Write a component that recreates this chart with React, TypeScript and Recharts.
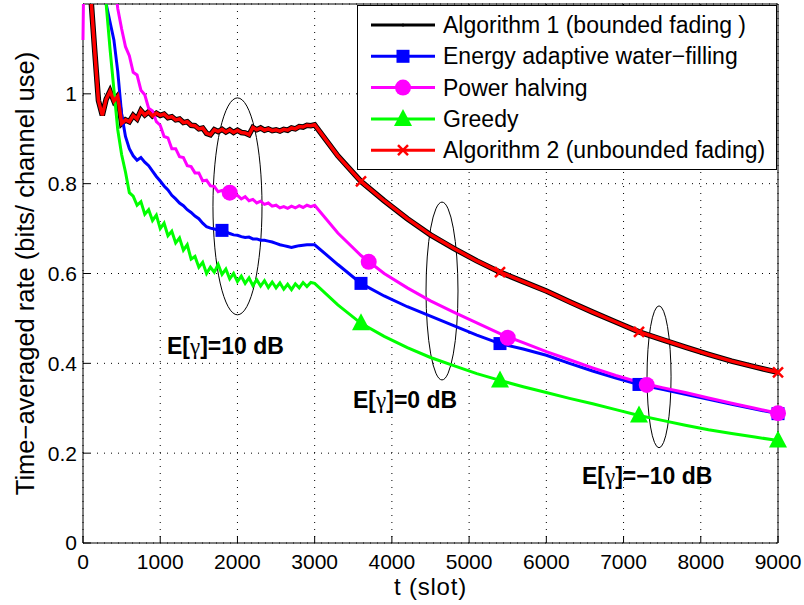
import React from "react";
import {
  ComposedChart,
  Line,
  Scatter,
  XAxis,
  YAxis,
  CartesianGrid,
  ReferenceArea,
  ReferenceDot,
  Legend,
} from "recharts";

const FONT = '"Liberation Sans", Arial, Helvetica, sans-serif';

// time slots (dense up to 3000 where the curves are noisy)
const slots = [
  0, 50, 100, 150, 200, 250, 300, 350, 400, 450,
  500, 550, 600, 650, 700, 750, 800, 850, 900, 950,
  1000, 1050, 1100, 1150, 1200, 1250, 1300, 1350, 1400, 1450,
  1500, 1550, 1600, 1650, 1700, 1750, 1800, 1850, 1900, 1950,
  2000, 2050, 2100, 2150, 2200, 2250, 2300, 2350, 2400, 2450,
  2500, 2550, 2600, 2650, 2700, 2750, 2800, 2850, 2900, 2950,
  3000, 3300, 3600, 3900, 4200, 4500, 4800, 5100, 5400, 5700,
  6000, 6300, 6600, 6900, 7200, 7500, 7800, 8100, 8400, 8700, 9000,
];

// Algorithm 1 and Algorithm 2 overlap
const algoRate = [
  2.2, 1.7, 1.22, 1.1, 0.985, 0.952, 0.988, 1.006, 0.984, 0.995,
  0.934, 0.942, 0.938, 0.952, 0.944, 0.963, 0.953, 0.96, 0.951, 0.957,
  0.952, 0.955, 0.947, 0.949, 0.942, 0.944, 0.936, 0.938, 0.93, 0.929,
  0.922, 0.924, 0.912, 0.909, 0.92, 0.916, 0.921, 0.915, 0.92, 0.914,
  0.919, 0.914, 0.913, 0.909, 0.925, 0.92, 0.924, 0.919, 0.922, 0.918,
  0.92, 0.917, 0.921, 0.919, 0.924, 0.922, 0.927, 0.926, 0.93, 0.929,
  0.931, 0.862, 0.805, 0.762, 0.722, 0.686, 0.656, 0.628, 0.603, 0.582,
  0.561, 0.537, 0.514, 0.492, 0.47, 0.453, 0.436, 0.42, 0.405, 0.392, 0.38,
];

const waterFilling = [
  2.2, 2.0, 1.8, 1.6, 1.45, 1.32, 1.2, 1.16, 1.12, 1.05,
  0.955, 0.905, 0.878, 0.862, 0.852, 0.858, 0.848, 0.84, 0.828, 0.816,
  0.806, 0.795, 0.786, 0.774, 0.766, 0.757, 0.751, 0.742, 0.736, 0.728,
  0.722, 0.712, 0.704, 0.701, 0.699, 0.697, 0.696, 0.693, 0.689, 0.686,
  0.685, 0.682, 0.68, 0.681, 0.677, 0.677, 0.674, 0.674, 0.672, 0.67,
  0.667, 0.664, 0.662, 0.66, 0.658, 0.66, 0.662, 0.663, 0.664, 0.664,
  0.664, 0.62, 0.578, 0.55, 0.526, 0.505, 0.484, 0.463, 0.444, 0.432,
  0.418, 0.4, 0.383, 0.367, 0.353, 0.342, 0.331, 0.32, 0.309, 0.298, 0.288,
];

const powerHalving = [
  1.12, 1.9, 1.8, 1.7, 1.6, 1.5, 1.42, 1.35, 1.27, 1.19,
  1.145, 1.105, 1.085, 1.048, 1.042, 1.008, 0.998, 0.968, 0.962, 0.938,
  0.93, 0.905, 0.902, 0.878, 0.878, 0.86, 0.858, 0.84, 0.838, 0.824,
  0.824, 0.806, 0.808, 0.795, 0.794, 0.782, 0.785, 0.776, 0.782, 0.772,
  0.774, 0.766, 0.771, 0.762, 0.765, 0.757, 0.761, 0.754, 0.757, 0.75,
  0.752, 0.746, 0.749, 0.745, 0.75, 0.746, 0.751, 0.747, 0.752, 0.749,
  0.752, 0.69, 0.64, 0.6, 0.568, 0.539, 0.514, 0.49, 0.466, 0.446,
  0.426, 0.408, 0.39, 0.373, 0.358, 0.346, 0.335, 0.323, 0.311, 0.3, 0.289,
];

const greedy = [
  2.2, 2.0, 1.8, 1.6, 1.45, 1.3, 1.2, 1.1, 1.01, 0.92,
  0.865, 0.826, 0.78, 0.772, 0.752, 0.76, 0.732, 0.742, 0.718, 0.73,
  0.7, 0.712, 0.684, 0.694, 0.668, 0.679, 0.652, 0.664, 0.632, 0.638,
  0.614, 0.625, 0.6, 0.614, 0.603, 0.62, 0.598, 0.61, 0.588, 0.6,
  0.582, 0.594, 0.578, 0.59, 0.573, 0.586, 0.572, 0.584, 0.569, 0.581,
  0.568, 0.579, 0.565, 0.576, 0.564, 0.577, 0.568, 0.58, 0.571, 0.58,
  0.578, 0.53, 0.489, 0.46, 0.435, 0.413, 0.395, 0.377, 0.362, 0.348,
  0.335, 0.322, 0.31, 0.297, 0.284, 0.273, 0.262, 0.252, 0.244, 0.236, 0.228,
];

// marker positions
const squareT = [1800, 3600, 5400, 7200, 9000];
const squareV = [0.696, 0.578, 0.444, 0.353, 0.288];
const circleT = [1900, 3700, 5500, 7300, 9000];
const circleV = [0.78, 0.626, 0.457, 0.352, 0.289];
const triangleT = [3600, 5400, 7200, 9000];
const triangleV = [0.489, 0.362, 0.284, 0.228];
const crossT = [3600, 5400, 7200, 9000];
const crossV = [0.805, 0.603, 0.47, 0.38];

const xTicks = [0, 1000, 2000, 3000, 4000, 5000, 6000, 7000, 8000, 9000];
const yTicks = [0, 0.2, 0.4, 0.6, 0.8, 1];

// annotations: ellipse bounds and labels
const ellipseT = [[1683, 2318], [4442, 4856], [7304, 7615]];
const ellipseV = [[0.508, 0.991], [0.363, 0.759], [0.212, 0.528]];
const noteT = [1088, 3497, 6462];
const noteV = [0.421, 0.3, 0.131];
const noteText = ["=10 dB", "=0 dB", "=\u221210 dB"];

const legendNames = [
  "Algorithm 1 (bounded fading )",
  "Energy adaptive water\u2212filling",
  "Power halving",
  "Greedy",
  "Algorithm 2 (unbounded fading)",
];
const legendColors = ["#000000", "#0000ff", "#ff00ff", "#00ff00", "#ff0000"];
const legendMarks = ["dot", "square", "circle", "triangle", "cross"];

const rows = slots.map((t, i) => ({
  t,
  algo: algoRate[i],
  water: waterFilling[i],
  halving: powerHalving[i],
  greedy: greedy[i],
}));

const pts = (ts: number[], vs: number[]) => ts.map((t, i) => ({ t, v: vs[i] }));

function marker(kind: string, cx: number, cy: number, color: string) {
  switch (kind) {
    case "square":
      return <rect x={cx - 6.5} y={cy - 6.5} width={13} height={13} fill={color} />;
    case "circle":
      return <circle cx={cx} cy={cy} r={8} fill={color} />;
    case "triangle":
      return (
        <polygon
          points={`${cx},${cy - 10} ${cx - 9},${cy + 7} ${cx + 9},${cy + 7}`}
          fill={color}
        />
      );
    case "cross":
      return (
        <g stroke={color} strokeWidth={2.5}>
          <line x1={cx - 5} y1={cy - 5} x2={cx + 5} y2={cy + 5} />
          <line x1={cx - 5} y1={cy + 5} x2={cx + 5} y2={cy - 5} />
        </g>
      );
    default:
      return <circle cx={cx} cy={cy} r={1.5} fill={color} />;
  }
}

function LegendBox() {
  return (
    <svg width={420} height={165} style={{ display: "block" }}>
      <rect x={0.5} y={0.5} width={419} height={164} fill="#fff" stroke="#000" />
      {legendNames.map((name, i) => {
        const y = 20 + i * 31.3;
        return (
          <g key={name}>
            <line x1={14} x2={78} y1={y} y2={y} stroke={legendColors[i]} strokeWidth={3} />
            {marker(legendMarks[i], 46, y, legendColors[i])}
            <text x={86} y={y + 8} fontFamily={FONT} fontSize={23} fill="#000">
              {name}
            </text>
          </g>
        );
      })}
    </svg>
  );
}

const tickStyle = { fill: "#000", fontSize: 21, fontFamily: FONT };

export default function App() {
  return (
    <div style={{ position: "absolute", left: 0, top: 0, width: 804, height: 605, background: "#fff" }}>
      <ComposedChart
        width={804}
        height={605}
        data={rows}
        margin={{ top: 4, right: 26, bottom: 0, left: 0 }}
      >
        <CartesianGrid stroke="#000" strokeDasharray="1 6" />
        <XAxis
          dataKey="t"
          type="number"
          domain={[0, 9000]}
          ticks={xTicks}
          height={62}
          tick={tickStyle}
          tickSize={-7}
          tickMargin={18}
          tickLine={{ stroke: "#000" }}
          axisLine={false}
          label={{
            value: "t (slot)",
            position: "insideBottom",
            offset: 10,
            style: { fontSize: 24, fontFamily: FONT, fill: "#000", letterSpacing: 0.8 },
          }}
        />
        <XAxis
          xAxisId="top"
          dataKey="t"
          type="number"
          orientation="top"
          domain={[0, 9000]}
          ticks={xTicks}
          height={0}
          tick={false}
          tickSize={-7}
          tickLine={{ stroke: "#000" }}
          axisLine={false}
        />
        <YAxis
          type="number"
          domain={[0, 1.2]}
          allowDataOverflow
          ticks={yTicks}
          width={83}
          tick={tickStyle}
          tickSize={-7}
          tickMargin={13}
          tickLine={{ stroke: "#000" }}
          axisLine={false}
          label={{
            value: "Time\u2212averaged rate (bits/ channel use)",
            angle: -90,
            position: "insideLeft",
            offset: 25,
            style: { textAnchor: "middle", fontSize: 25.5, fontFamily: FONT, fill: "#000" },
          }}
        />
        <YAxis
          yAxisId="r"
          type="number"
          orientation="right"
          domain={[0, 1.2]}
          ticks={yTicks}
          width={0}
          tick={false}
          tickSize={-7}
          tickLine={{ stroke: "#000" }}
          axisLine={false}
        />

        <Line dataKey="algo" stroke="#000" strokeWidth={5.5} dot={false} activeDot={false} isAnimationActive={false} />
        <Line dataKey="water" stroke="#0000ff" strokeWidth={3} dot={false} activeDot={false} isAnimationActive={false} />
        <Scatter
          yAxisId="r"
          data={pts(squareT, squareV)}
          dataKey="v"
          isAnimationActive={false}
          shape={(p: any) => marker("square", p.cx, p.cy, "#0000ff")}
        />
        <Line dataKey="halving" stroke="#ff00ff" strokeWidth={3} dot={false} activeDot={false} isAnimationActive={false} />
        <Scatter
          yAxisId="r"
          data={pts(circleT, circleV)}
          dataKey="v"
          isAnimationActive={false}
          shape={(p: any) => marker("circle", p.cx, p.cy, "#ff00ff")}
        />
        <Line dataKey="greedy" stroke="#00ff00" strokeWidth={3} dot={false} activeDot={false} isAnimationActive={false} />
        <Scatter
          yAxisId="r"
          data={pts(triangleT, triangleV)}
          dataKey="v"
          isAnimationActive={false}
          shape={(p: any) => marker("triangle", p.cx, p.cy, "#00ff00")}
        />
        <Line dataKey="algo" stroke="#ff0000" strokeWidth={3.5} dot={false} activeDot={false} isAnimationActive={false} />
        <Scatter
          yAxisId="r"
          data={pts(crossT, crossV)}
          dataKey="v"
          isAnimationActive={false}
          shape={(p: any) => marker("cross", p.cx, p.cy, "#ff0000")}
        />

        {ellipseT.map((tr, i) => (
          <ReferenceArea
            key={`e${i}`}
            yAxisId="r"
            x1={tr[0]}
            x2={tr[1]}
            y1={ellipseV[i][0]}
            y2={ellipseV[i][1]}
            shape={(p: any) => (
              <ellipse
                cx={p.x + p.width / 2}
                cy={p.y + p.height / 2}
                rx={p.width / 2}
                ry={p.height / 2}
                fill="none"
                stroke="#000"
                strokeWidth={1}
              />
            )}
          />
        ))}
        {noteT.map((t, i) => (
          <ReferenceDot
            key={`n${i}`}
            yAxisId="r"
            x={t}
            y={noteV[i]}
            r={1}
            shape={(p: any) => (
              <text x={p.cx} y={p.cy} fontFamily={FONT} fontWeight="bold" fontSize={23} fill="#000">
                E[
                <tspan fontFamily="'Liberation Serif', serif" fontWeight="normal">
                  {"\u03b3"}
                </tspan>
                ]{noteText[i]}
              </text>
            )}
          />
        ))}
        <ReferenceArea
          yAxisId="r"
          x1={0}
          x2={9000}
          y1={0}
          y2={1.2}
          fill="none"
          fillOpacity={0}
          stroke="#000"
          strokeWidth={1}
        />
        <Legend
          layout="vertical"
          align="center"
          verticalAlign="middle"
          wrapperStyle={{ left: 357, top: 5, width: 420, height: 165 }}
          content={() => <LegendBox />}
        />
      </ComposedChart>
    </div>
  );
}
